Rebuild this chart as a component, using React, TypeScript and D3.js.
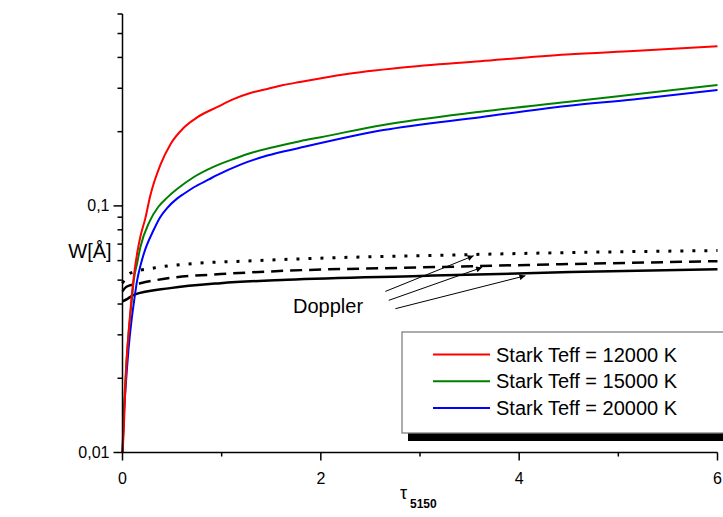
import React from "react";
import * as d3 from "d3";

// ---- data ----
const redTau = [0, 0.013, 0.025, 0.04, 0.064, 0.09, 0.12, 0.15, 0.18, 0.23, 0.28, 0.383, 0.484, 0.615, 0.756, 0.958, 1.119, 1.29, 1.46, 1.62, 1.79, 2.23, 2.8, 3.61, 4.48, 5.15, 6.0];
const redW = [0.01, 0.0124, 0.017, 0.0231, 0.0315, 0.042, 0.054, 0.065, 0.075, 0.089, 0.11, 0.147, 0.178, 0.207, 0.229, 0.252, 0.271, 0.287, 0.298, 0.309, 0.318, 0.341, 0.363, 0.386, 0.411, 0.425, 0.444];

const greenTau = [0, 0.01, 0.03, 0.06, 0.09, 0.114, 0.148, 0.18, 0.27, 0.36, 0.45, 0.55, 0.72, 0.917, 1.12, 1.32, 1.52, 1.79, 2.0, 2.63, 3.61, 4.48, 5.15, 6.0];
const greenW = [0.01, 0.0135, 0.02, 0.03, 0.04, 0.05, 0.0587, 0.068, 0.086, 0.099, 0.108, 0.117, 0.131, 0.144, 0.155, 0.165, 0.173, 0.183, 0.19, 0.213, 0.241, 0.264, 0.283, 0.309];

const blueTau = [0, 0.01, 0.03, 0.06, 0.09, 0.12, 0.148, 0.18, 0.215, 0.315, 0.38, 0.45, 0.55, 0.62, 0.72, 0.87, 0.958, 1.19, 1.46, 1.79, 2.63, 3.61, 4.48, 5.15, 6.0];
const blueW = [0.01, 0.013, 0.018, 0.026, 0.034, 0.042, 0.05, 0.057, 0.064, 0.08, 0.09, 0.098, 0.107, 0.112, 0.119, 0.128, 0.1335, 0.147, 0.16, 0.172, 0.203, 0.229, 0.254, 0.27, 0.295];

const dotTau = [0, 0.03, 0.08, 0.315, 0.65, 1.32, 2.0, 3.0, 4.52, 6.0];
const dotW = [0.0486, 0.051, 0.0534, 0.056, 0.0581, 0.0599, 0.0614, 0.0628, 0.0647, 0.0659];

const dashTau = [0, 0.04, 0.18, 0.48, 0.99, 1.66, 3.0, 4.52, 6.0];
const dashW = [0.045, 0.047, 0.0486, 0.051, 0.0529, 0.0546, 0.0563, 0.0581, 0.0597];

const solidTau = [0, 0.05, 0.114, 0.48, 0.99, 1.66, 3.0, 4.52, 6.0];
const solidW = [0.041, 0.042, 0.0436, 0.0464, 0.0486, 0.0502, 0.052, 0.0539, 0.0554];

const legendLabels = ["Stark Teff = 12000 K", "Stark Teff = 15000 K", "Stark Teff = 20000 K"];
const xMajorTicks = [0, 2, 4, 6];
const xMinorTicks = [1, 3, 5];
const yMajorTicks = [0.01, 0.1];
const yMajorLabels = ["0,01", "0,1"];
const yMinorTicks = [0.02, 0.03, 0.04, 0.05, 0.06, 0.07, 0.08, 0.09, 0.2, 0.3, 0.4, 0.5, 0.6];

// annotation arrows: [tau, W] at start and end
const arrowStart = [[2.651, 0.045], [2.685, 0.0414], [2.752, 0.0383]];
const arrowEnd = [[3.541, 0.0628], [3.626, 0.0563], [4.063, 0.0521]];

export default function App() {
  const W = 723, H = 517;
  const x = d3.scaleLinear().domain([0, 6]).range([122.5, 717.5]);
  const y = d3.scaleLog().domain([0.01, 0.6]).range([452.5, 14]);
  const line = d3
    .line<[number, number]>()
    .x((d) => x(d[0]))
    .y((d) => y(d[1]))
    .curve(d3.curveMonotoneX);
  const zip = (a: number[], b: number[]) => a.map((t, i) => [t, b[i]] as [number, number]);

  const font = "'Liberation Sans', Arial, sans-serif";
  const stark = [
    { tau: redTau, w: redW, color: "#ff0000" },
    { tau: greenTau, w: greenW, color: "#008000" },
    { tau: blueTau, w: blueW, color: "#0000ff" },
  ];
  const x0 = x(0), yb = y(0.01), yt = y(0.6);

  return (
    <svg width={W} height={H} style={{ position: "absolute", left: 0, top: 0, background: "#fff" }} fontFamily={font}>
      <defs>
        <marker id="ah" viewBox="0 0 10 10" refX="10" refY="5" markerWidth="9" markerHeight="6" orient="auto" markerUnits="userSpaceOnUse">
          <path d="M0,0 L10,5 L0,10 z" fill="#000" />
        </marker>
      </defs>
      <rect x={0} y={0} width={W} height={H} fill="#fff" />

      {/* Doppler curves */}
      <path d={line(zip(solidTau, solidW)) || ""} fill="none" stroke="#000" strokeWidth={2.5} />
      <path d={line(zip(dashTau, dashW)) || ""} fill="none" stroke="#000" strokeWidth={2.5} strokeDasharray="12,7" />
      <path d={line(zip(dotTau, dotW)) || ""} fill="none" stroke="#000" strokeWidth={3} strokeDasharray="3,9" />

      {/* Stark curves */}
      {stark.slice().reverse().map((s, i) => (
        <path key={i} d={line(zip(s.tau, s.w)) || ""} fill="none" stroke={s.color} strokeWidth={2} />
      ))}

      {/* arrows */}
      {arrowStart.map((s, i) => (
        <line key={i} x1={x(s[0])} y1={y(s[1])} x2={x(arrowEnd[i][0])} y2={y(arrowEnd[i][1])} stroke="#000" strokeWidth={1} markerEnd="url(#ah)" />
      ))}
      <text x={293} y={313} fontSize={20}>Doppler</text>

      {/* axes */}
      <line x1={x0} y1={yb} x2={x0} y2={yt} stroke="#000" strokeWidth={1.5} />
      <line x1={x0} y1={yb} x2={x(6)} y2={yb} stroke="#000" strokeWidth={1.5} />
      {yMajorTicks.map((t, i) => (
        <g key={t}>
          <line x1={x0 - 9} x2={x0} y1={y(t)} y2={y(t)} stroke="#000" strokeWidth={1.5} />
          <text x={x0 - 13} y={y(t)} dy="0.35em" textAnchor="end" fontSize={16}>{yMajorLabels[i]}</text>
        </g>
      ))}
      {yMinorTicks.map((t) => (
        <line key={t} x1={x0 - 5} x2={x0} y1={y(t)} y2={y(t)} stroke="#000" strokeWidth={1.5} />
      ))}
      {xMajorTicks.map((t) => (
        <g key={t}>
          <line x1={x(t)} x2={x(t)} y1={yb} y2={yb + 8} stroke="#000" strokeWidth={1.5} />
          <text x={x(t)} y={yb + 31} textAnchor="middle" fontSize={16}>{t}</text>
        </g>
      ))}
      {xMinorTicks.map((t) => (
        <line key={t} x1={x(t)} x2={x(t)} y1={yb} y2={yb + 4} stroke="#000" strokeWidth={1.5} />
      ))}

      {/* axis titles */}
      <text x={90} y={251} dy="0.35em" textAnchor="middle" fontSize={20}>W[Å]</text>
      <text x={400} y={499} fontSize={18}>τ</text>
      <text x={410} y={508} fontSize={12} fontWeight="bold">5150</text>

      {/* legend */}
      <rect x={408} y={339} width={340} height={102} fill="#000" />
      <rect x={402} y={332} width={340} height={101} fill="#fff" stroke="#808080" strokeWidth={1.3} />
      {stark.map((s, i) => (
        <g key={i}>
          <line x1={433} x2={490} y1={354.5 + i * 26.7} y2={354.5 + i * 26.7} stroke={s.color} strokeWidth={2} />
          <text x={496} y={354.5 + i * 26.7} dy="0.35em" fontSize={20}>{legendLabels[i]}</text>
        </g>
      ))}
    </svg>
  );
}
